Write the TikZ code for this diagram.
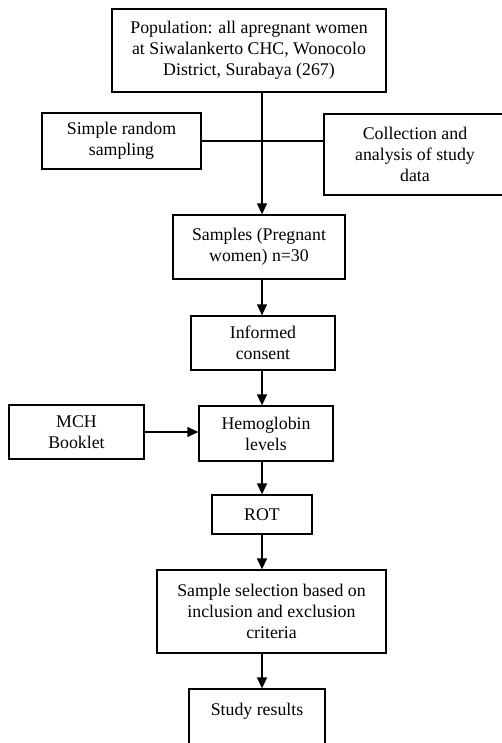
\documentclass[tikz,border=0pt]{standalone}
\usepackage{fontspec}
\setmainfont{Liberation Serif}
\usetikzlibrary{arrows.meta}
\begin{document}
\begin{tikzpicture}[x=1pt,y=-1pt,
    box/.style={draw,line width=1.3pt,align=center,inner sep=0pt,
        font=\fontsize{17.8}{21}\selectfont},
    arr/.style={line width=1.3pt,-{Triangle[length=11pt,width=10pt]}}]
    \useasboundingbox (0,0) rectangle (502,743);
    \coordinate (spine) at (262,0);
    \node[box,minimum width=274pt,minimum height=83pt] (pop) at (249,50.5) {Population: all apregnant women\\at Siwalankerto CHC, Wonocolo\\District, Surabaya (267)};
    \node[box,minimum width=159pt,minimum height=56pt] (srs) at (121.5,141) {Simple random\\sampling};
    \node[box,minimum width=182pt,minimum height=81pt] (coll) at (415,154.5) {Collection and\\analysis of study\\data};
    \node[box,minimum width=172pt,minimum height=64pt] (samp) at (259,247) {Samples (Pregnant\\women) n=30};
    \node[box,minimum width=144pt,minimum height=54pt] (cons) at (263,343) {Informed\\consent};
    \node[box,minimum width=134pt,minimum height=55pt] (hb) at (266,433.5) {Hemoglobin\\levels};
    \node[box,minimum width=135pt,minimum height=54pt] (mch) at (76.5,432) {MCH\\Booklet};
    \node[box,minimum width=100pt,minimum height=39pt] (rot) at (262,514.5) {ROT};
    \node[box,minimum width=229pt,minimum height=83pt] (sel) at (271.5,611.5) {Sample selection based on\\inclusion and exclusion\\criteria};
    \node[box,minimum width=136pt,minimum height=61pt] (res) at (257,719.5) {Study results\\\mbox{}};
    % links
    \draw[arr] (pop.south -| spine) -- (samp.north -| spine);
    \draw[line width=1.3pt] (srs.east) -- (coll.west |- srs.east);
    \draw[arr] (samp.south -| spine) -- (cons.north -| spine);
    \draw[arr] (cons.south -| spine) -- (hb.north -| spine);
    \draw[arr] (mch.east) -- (hb.west |- mch.east);
    \draw[arr] (hb.south -| spine) -- (rot.north -| spine);
    \draw[arr] (rot.south -| spine) -- (sel.north -| spine);
    \draw[arr] (sel.south -| spine) -- (res.north -| spine);
\end{tikzpicture}
\end{document}
